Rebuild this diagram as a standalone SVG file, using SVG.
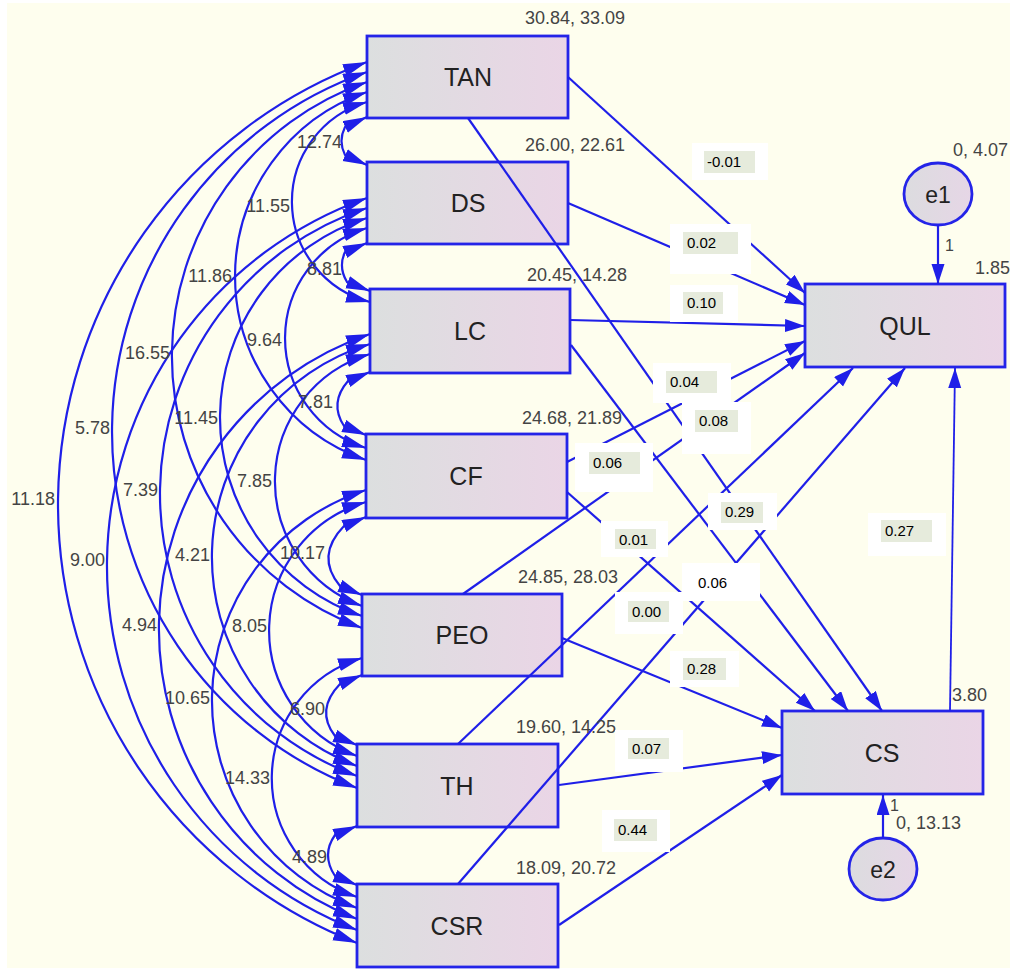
<svg xmlns="http://www.w3.org/2000/svg" width="1010" height="970" viewBox="0 0 1010 970">
<style>
.cov{fill:none;stroke:#1f1fe8;stroke-width:2.2;marker-start:url(#ah);marker-end:url(#ah)}
.pa{fill:none;stroke:#1f1fe8;stroke-width:2.2;marker-end:url(#ahb)}
.box{fill:url(#bg);stroke:#2424e8;stroke-width:2.8}
.ell{fill:url(#eg);stroke:#2424e8;stroke-width:2.8}
.nm{font-family:"Liberation Sans",Arial,sans-serif;font-size:25px;fill:#222;text-anchor:middle}
.num{font-family:"Liberation Sans",Arial,sans-serif;font-size:18px;fill:#444}
.cv{font-family:"Liberation Sans",Arial,sans-serif;font-size:18px;fill:#444;text-anchor:end}
.co{font-family:"Liberation Sans",Arial,sans-serif;font-size:15px;fill:#000}
.wb{fill:#ffffff}
.gb{fill:#e6ebdc}
</style>
<defs>
<linearGradient id="bg" x1="0" y1="0" x2="1" y2="0">
<stop offset="0" stop-color="#dcdfdf"/>
<stop offset="1" stop-color="#ead5e6"/>
</linearGradient>
<linearGradient id="eg" x1="0" y1="0" x2="1" y2="0">
<stop offset="0" stop-color="#dcdcdf"/>
<stop offset="1" stop-color="#e6d6e6"/>
</linearGradient>
<marker id="ah" markerUnits="userSpaceOnUse" markerWidth="26" markerHeight="15" refX="24" refY="6.5" orient="auto-start-reverse">
<path d="M0,0 L24,6.5 L0,13 z" fill="#1f1fe8"/>
</marker>
<marker id="ahb" markerUnits="userSpaceOnUse" markerWidth="22" markerHeight="14" refX="20" refY="6.5" orient="auto">
<path d="M0,0 L20,6.5 L0,13 z" fill="#1f1fe8"/>
</marker>
</defs>
<rect x="0" y="0" width="1010" height="970" fill="#ffffff"/>
<rect x="7" y="3" width="1003" height="965" fill="#fefeee"/>

<g id="node-TAN"><rect class="box" x="367" y="36" width="201" height="82"/><text class="nm" x="468" y="86">TAN</text></g>
<g id="node-DS"><rect class="box" x="367" y="162" width="201" height="82"/><text class="nm" x="468" y="212">DS</text></g>
<g id="node-LC"><rect class="box" x="370" y="289" width="200" height="84"/><text class="nm" x="470" y="340">LC</text></g>
<g id="node-CF"><rect class="box" x="366" y="434" width="201" height="84"/><text class="nm" x="466" y="485">CF</text></g>
<g id="node-PEO"><rect class="box" x="362" y="594" width="200" height="82"/><text class="nm" x="462" y="644">PEO</text></g>
<g id="node-TH"><rect class="box" x="357" y="744" width="201" height="83"/><text class="nm" x="457" y="795">TH</text></g>
<g id="node-CSR"><rect class="box" x="357" y="884" width="201" height="83"/><text class="nm" x="457" y="935">CSR</text></g>
<g id="node-QUL"><rect class="box" x="805" y="284" width="200" height="83"/><text class="nm" x="905" y="335">QUL</text></g>
<g id="node-CS"><rect class="box" x="782" y="711" width="201" height="83"/><text class="nm" x="882" y="762">CS</text></g>
<g id="node-e1"><ellipse class="ell" cx="938" cy="194" rx="34" ry="31"/><text class="nm" x="938" y="203" style="font-size:23px">e1</text></g>
<g id="node-e2"><ellipse class="ell" cx="883" cy="869" rx="34" ry="31"/><text class="nm" x="883" y="878" style="font-size:23px">e2</text></g>

<g id="connectors">
<!-- covariances, adjacent -->
<path class="cov" d="M367,117 L345,127 Q338,141 345,155 L367,165"/>
<path class="cov" d="M367,243 L345,252 Q338,267 347,282 L370,291"/>
<path class="cov" d="M370,372 L348,381 Q329,403 344,426 L366,435"/>
<path class="cov" d="M366,517 L344,526 Q315,556 340,586 L362,595"/>
<path class="cov" d="M362,675 L340,684 Q315,710 335,736 L357,745"/>
<path class="cov" d="M357,826 L335,835 Q321,855 335,876 L357,885"/>
<!-- covariances, longer -->
<path class="cov" d="M367,102 A103.6,103.6 0 0 0 370,302"/>
<path class="cov" d="M367,228 A115,115 0 0 0 366,448"/>
<path class="cov" d="M370,354 A132.8,132.8 0 0 0 362,606"/>
<path class="cov" d="M366,502 A133.6,133.6 0 0 0 357,756"/>
<path class="cov" d="M362,658 A125.3,125.3 0 0 0 357,897"/>
<path class="cov" d="M367,92 A194.5,194.5 0 0 0 366,460"/>
<path class="cov" d="M367,218 A209.3,209.3 0 0 0 362,616"/>
<path class="cov" d="M370,344 A222.8,222.8 0 0 0 357,766"/>
<path class="cov" d="M366,490 A220.9,220.9 0 0 0 357,908"/>
<path class="cov" d="M367,82 A289.8,289.8 0 0 0 362,628"/>
<path class="cov" d="M367,208 A300.7,300.7 0 0 0 357,776"/>
<path class="cov" d="M370,334 A311.5,311.5 0 0 0 357,919"/>
<path class="cov" d="M367,72 A381.4,381.4 0 0 0 357,788"/>
<path class="cov" d="M367,198 A390.2,390.2 0 0 0 357,930"/>
<path class="cov" d="M367,62 A471.2,471.2 0 0 0 357,943"/>
<!-- paths to QUL -->
<path class="pa" d="M568,77 L805,293"/>
<path class="pa" d="M568,203 L805,305"/>
<path class="pa" d="M570,320 L805,326"/>
<path class="pa" d="M567,462 L805,341"/>
<path class="pa" d="M463,594 L805,353"/>
<path class="pa" d="M458,744 L853,368"/>
<path class="pa" d="M458,884 L905,368"/>
<path class="pa" d="M950,711 L955,368" style="stroke-width:1.8"/>
<path class="pa" d="M938,225 L938,284"/>
<!-- paths to CS -->
<path class="pa" d="M468,118 L882,711"/>
<path class="pa" d="M571,345 L848,711"/>
<path class="pa" d="M567,492 L815,711"/>
<path class="pa" d="M562,638 L782,728"/>
<path class="pa" d="M559,785 L782,755"/>
<path class="pa" d="M559,925 L782,775"/>
<path class="pa" d="M883,838 L883,795"/>
</g>

<g id="variance-labels">
<text class="num" x="525" y="24">30.84, 33.09</text>
<text class="num" x="525" y="151">26.00, 22.61</text>
<text class="num" x="527" y="281">20.45, 14.28</text>
<text class="num" x="522" y="424">24.68, 21.89</text>
<text class="num" x="518" y="583">24.85, 28.03</text>
<text class="num" x="516" y="733">19.60, 14.25</text>
<text class="num" x="516" y="874">18.09, 20.72</text>
<text class="num" x="953" y="156">0, 4.07</text>
<text class="num" x="975" y="274">1.85</text>
<text class="num" x="945" y="251" style="font-size:16px">1</text>
<text class="num" x="952" y="701">3.80</text>
<text class="num" x="890" y="811" style="font-size:16px">1</text>
<text class="num" x="896" y="829">0, 13.13</text>
</g>

<g id="covariance-labels">
<text class="cv" x="342" y="148">12.74</text>
<text class="cv" x="290" y="212">11.55</text>
<text class="cv" x="232" y="282">11.86</text>
<text class="cv" x="342" y="275">8.81</text>
<text class="cv" x="282" y="346">9.64</text>
<text class="cv" x="170" y="359">16.55</text>
<text class="cv" x="333" y="408">7.81</text>
<text class="cv" x="110" y="434">5.78</text>
<text class="cv" x="218" y="424">11.45</text>
<text class="cv" x="158" y="496">7.39</text>
<text class="cv" x="272" y="487">7.85</text>
<text class="cv" x="55" y="505">11.18</text>
<text class="cv" x="105" y="566">9.00</text>
<text class="cv" x="210" y="561">4.21</text>
<text class="cv" x="325" y="559">10.17</text>
<text class="cv" x="157" y="631">4.94</text>
<text class="cv" x="267" y="632">8.05</text>
<text class="cv" x="210" y="704">10.65</text>
<text class="cv" x="325" y="715">6.90</text>
<text class="cv" x="270" y="784">14.33</text>
<text class="cv" x="327" y="863">4.89</text>
</g>

<g id="coefficient-labels">
<rect class="wb" x="692" y="143" width="76" height="37"/><rect class="gb" x="704" y="151" width="51" height="22"/><text class="co" x="707" y="167">-0.01</text>
<rect class="wb" x="670" y="224" width="81" height="50"/><rect class="gb" x="683" y="232" width="55" height="22"/><text class="co" x="687" y="248">0.02</text>
<rect class="wb" x="670" y="285" width="68" height="37"/><rect class="gb" x="683" y="292" width="40" height="22"/><text class="co" x="687" y="308">0.10</text>
<rect class="wb" x="653" y="363" width="78" height="40"/><rect class="gb" x="666" y="371" width="51" height="22"/><text class="co" x="670" y="387">0.04</text>
<rect class="wb" x="682" y="402" width="69" height="52"/><rect class="gb" x="695" y="410" width="43" height="22"/><text class="co" x="699" y="426">0.08</text>
<rect class="wb" x="575" y="443" width="78" height="49"/><rect class="gb" x="589" y="452" width="51" height="22"/><text class="co" x="593" y="468">0.06</text>
<rect class="wb" x="708" y="493" width="69" height="37"/><rect class="gb" x="721" y="502" width="42" height="21"/><text class="co" x="725" y="517">0.29</text>
<rect class="wb" x="601" y="521" width="67" height="36"/><rect class="gb" x="615" y="529" width="41" height="20"/><text class="co" x="619" y="545">0.01</text>
<rect class="wb" x="682" y="563" width="78" height="38"/><text class="co" x="698" y="588">0.06</text>
<rect class="wb" x="615" y="592" width="68" height="42"/><rect class="gb" x="628" y="601" width="41" height="21"/><text class="co" x="632" y="617">0.00</text>
<rect class="wb" x="670" y="651" width="69" height="36"/><rect class="gb" x="683" y="658" width="43" height="22"/><text class="co" x="687" y="674">0.28</text>
<rect class="wb" x="615" y="730" width="68" height="42"/><rect class="gb" x="628" y="738" width="41" height="21"/><text class="co" x="632" y="754">0.07</text>
<rect class="wb" x="602" y="810" width="68" height="42"/><rect class="gb" x="614" y="819" width="43" height="22"/><text class="co" x="618" y="835">0.44</text>
<rect class="wb" x="868" y="513" width="78" height="43"/><rect class="gb" x="881" y="520" width="51" height="22"/><text class="co" x="885" y="536">0.27</text>
</g>
</svg>
